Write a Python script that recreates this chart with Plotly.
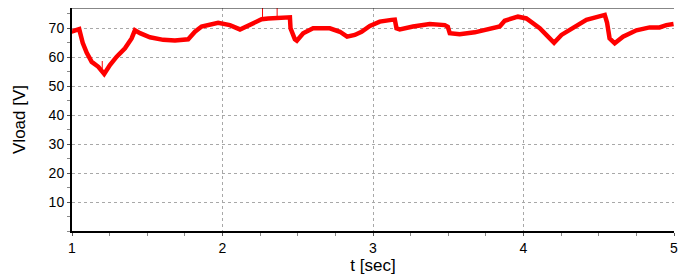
import plotly.graph_objects as go

t_sec = [1.000, 1.005, 1.048, 1.071, 1.098, 1.131, 1.175, 1.208, 1.214, 1.252, 1.297,
         1.352, 1.396, 1.418, 1.452, 1.518, 1.606, 1.684, 1.772, 1.817, 1.861, 1.971,
         2.049, 2.116, 2.182, 2.260, 2.303, 2.348, 2.448, 2.452, 2.481, 2.494, 2.536,
         2.602, 2.713, 2.780, 2.828, 2.879, 2.924, 2.979, 3.045, 3.123, 3.145, 3.156,
         3.178, 3.266, 3.377, 3.477, 3.497, 3.510, 3.576, 3.676, 3.842, 3.875, 3.963,
         4.019, 4.108, 4.163, 4.203, 4.252, 4.340, 4.418, 4.540, 4.555, 4.572, 4.606,
         4.661, 4.750, 4.838, 4.904, 4.949, 4.997]
vload = [69.2, 69.0, 69.7, 65.0, 61.5, 58.4, 56.7, 55.0, 54.2, 57.3, 60.2,
         63.1, 66.5, 69.3, 68.3, 66.9, 66.0, 65.8, 66.2, 68.8, 70.6, 71.9,
         71.1, 69.6, 71.1, 73.1, 73.4, 73.5, 73.8, 70.0, 66.2, 65.7, 68.3,
         70.0, 70.0, 68.8, 67.1, 67.7, 68.8, 70.8, 72.3, 72.9, 73.0, 70.0,
         69.6, 70.6, 71.5, 71.1, 70.5, 68.3, 67.9, 68.6, 70.6, 72.6, 74.0,
         73.4, 70.0, 67.1, 65.0, 67.7, 70.6, 72.9, 74.6, 72.0, 66.5, 64.8,
         67.1, 69.3, 70.3, 70.3, 71.1, 71.5]

spike_t = [1.201, 1.201, None, 2.266, 2.266, None, 2.363, 2.363]
spike_v = [56.0, 58.7, None, 73.0, 77.0, None, 73.6, 77.0]

x_ticks = [1, 2, 3, 4, 5]
y_ticks = [10, 20, 30, 40, 50, 60, 70]

fig = go.Figure()
fig.add_trace(go.Scatter(x=t_sec, y=vload, mode="lines",
                         line=dict(color="#ff0000", width=4.5), showlegend=False))
fig.add_trace(go.Scatter(x=spike_t, y=spike_v, mode="lines",
                         line=dict(color="#ff0000", width=1), showlegend=False))

font = dict(family="Liberation Sans, Arial, sans-serif", size=14, color="#000000")
# the page body has an 8px margin, so the figure is sized/margined to compensate
fig.update_layout(
    width=681, height=268,
    margin=dict(l=64, r=15, t=0, b=45),
    paper_bgcolor="white", plot_bgcolor="white",
    font=font,
    xaxis=dict(range=[1, 5], tickvals=x_ticks, ticktext=[str(v) for v in x_ticks],
               automargin=False,
               showgrid=True, gridcolor="#a8a8a8", griddash="dot", gridwidth=1,
               showline=True, linecolor="#000000", linewidth=2,
               ticks="outside", ticklen=3, tickcolor="#555555",
               minor=dict(dtick=0.25, ticks="outside", ticklen=3, tickcolor="#888888", showgrid=False),
               title=dict(text="t [sec]", standoff=4), zeroline=False),
    yaxis=dict(range=[0, 77], tickvals=y_ticks, ticktext=[str(v) for v in y_ticks],
               automargin=False,
               showgrid=True, gridcolor="#a8a8a8", griddash="dot", gridwidth=1,
               showline=True, linecolor="#000000", linewidth=2,
               ticks="outside", ticklen=3, tickcolor="#555555",
               minor=dict(dtick=5, ticks="outside", ticklen=3, tickcolor="#888888", showgrid=False),
               title=dict(text="Vload [V]", standoff=19), zeroline=False),
    shapes=[dict(type="line", xref="paper", yref="paper", x0=0, x1=1, y0=1, y1=1,
                 line=dict(color="#111111", width=1.2))],
)

fig.write_html("out.html")
